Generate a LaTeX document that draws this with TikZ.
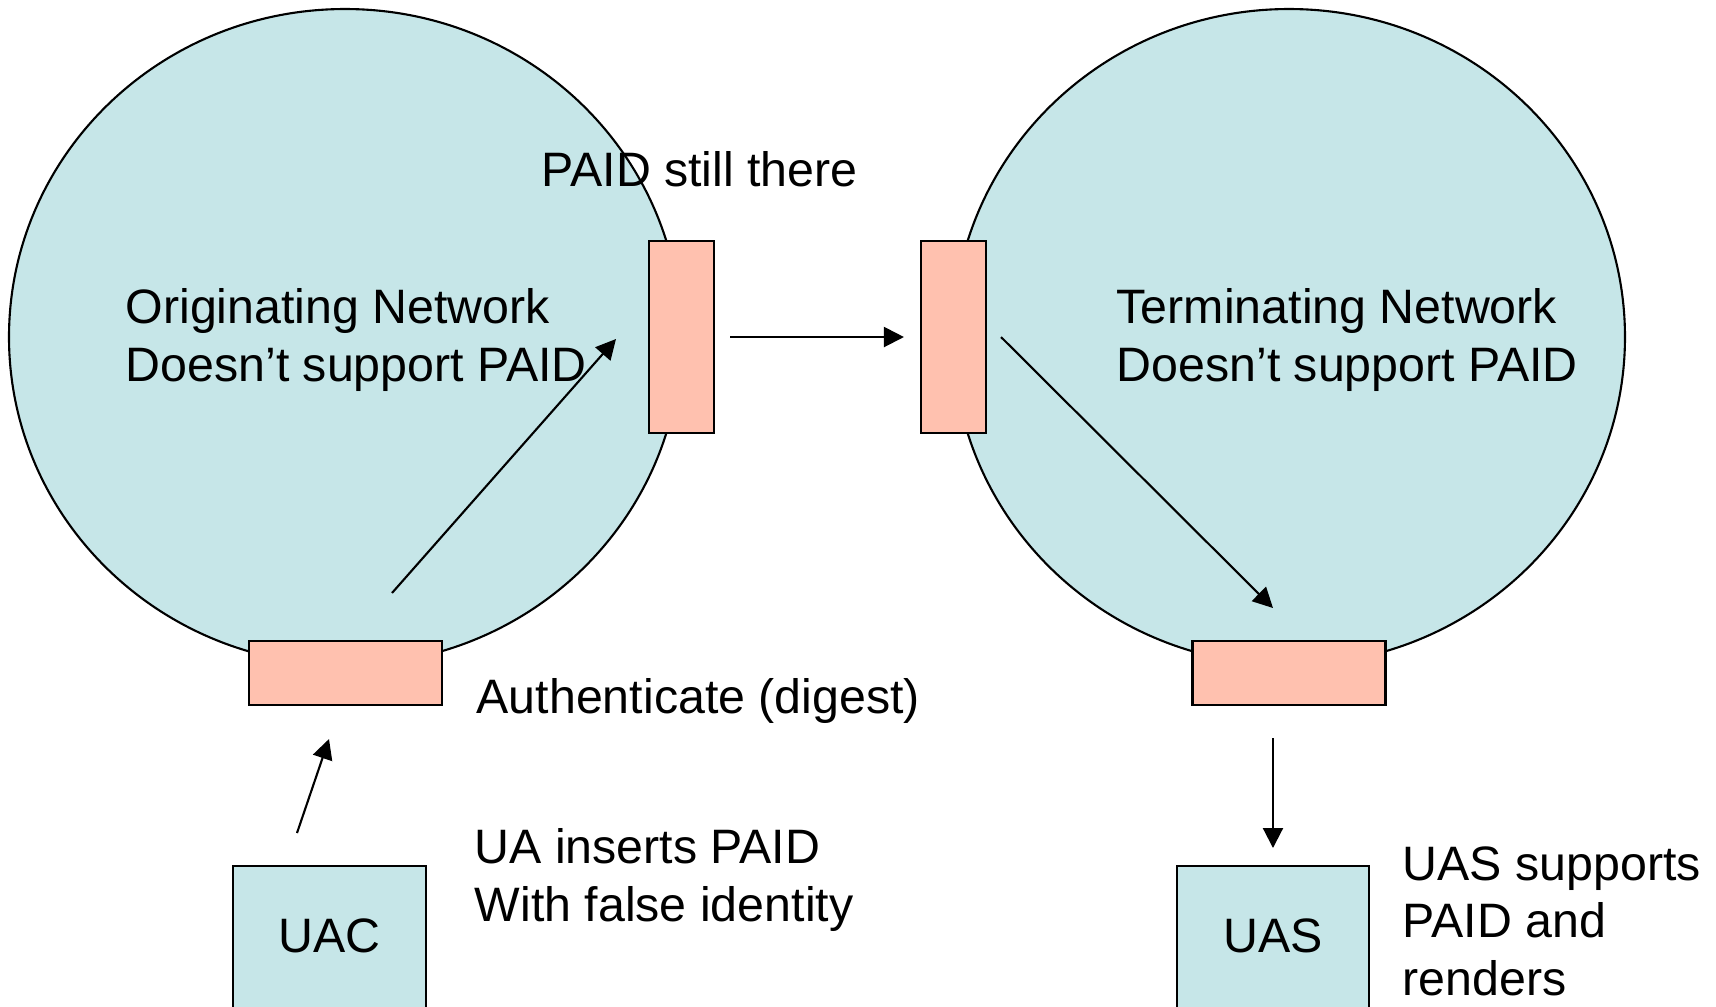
\documentclass[tikz,border=0pt]{standalone}
\usepackage{fontspec}
\setmainfont{Liberation Sans}
\usetikzlibrary{shapes.geometric,arrows.meta}
\definecolor{netblue}{RGB}{198,230,232}
\definecolor{gatepink}{RGB}{255,193,175}
\begin{document}
\begin{tikzpicture}[font=\fontsize{13.75}{16.4}\selectfont]
		\tikzset{network/.style = {shape=ellipse, draw, fill=netblue, line width=0.6pt, minimum width=6.72cm, minimum height=6.56cm},
			gate/.style = {shape=rectangle, draw, fill=gatepink, line width=0.6pt, inner sep=0pt},
			agent/.style = {shape=rectangle, draw, fill=netblue, line width=0.6pt, minimum height=1.6cm, text depth=0.2cm, anchor=north},
			note/.style = {inner sep=0pt, align=left},
			flow/.style = {-{Triangle[length=2mm,width=2mm]}, line width=0.6pt}}

		\useasboundingbox (0,0) rectangle (17.16,-10.06);
		\clip (0,0) rectangle (17.16,-10.06);

		\node[network] (orig) at (3.45,-3.37) {};
		\node[network] (term) at (12.89,-3.37) {};

		\node[gate, minimum width=0.65cm, minimum height=1.92cm] (og) at (6.815,-3.37) {};
		\node[gate, minimum width=0.65cm, minimum height=1.92cm] (tg) at (9.535,-3.37) {};
		\node[gate, minimum width=1.93cm, minimum height=0.64cm] (ob) at (3.455,-6.73) {};
		\node[gate, minimum width=1.93cm, minimum height=0.64cm] (tb) at (12.89,-6.73) {};

		\node[agent, minimum width=1.93cm] (uac) at (3.295,-8.65) {UAC};
		\node[agent, minimum width=1.92cm] (uas) at (12.73,-8.65) {UAS};

		\node[note, anchor=west] (origtext) at (1.25,-3.40) {Originating Network\\Doesn’t support PAID};
		\node[note, anchor=west] (termtext) at (11.16,-3.40) {Terminating Network\\Doesn’t support PAID};
		\node[note, anchor=base west] (still) at (5.41,-1.86) {PAID still there};
		\node[note, anchor=base west] (auth) at (4.76,-7.13) {Authenticate (digest)};
		\node[note, anchor=west] (inserts) at (4.74,-8.80) {UA inserts PAID\\With false identity};
		\node[note, anchor=west] (renders) at (14.02,-9.21) {UAS supports\\PAID and\\renders};

		\coordinate (ua1) at (2.97,-8.33);
		\coordinate (ua2) at (3.29,-7.39);
		\coordinate (on1) at (3.92,-5.93);
		\coordinate (on2) at (6.16,-3.39);
		\coordinate (tn1) at (10.01,-3.37);
		\coordinate (tn2) at (12.73,-6.08);

		\draw[flow] (ua1)--(ua2);
		\draw[flow] (on1)--(on2);
		\draw[flow, shorten <=1.5mm, shorten >=1.6mm] (og.east)--(tg.west);
		\draw[flow] (tn1)--(tn2);
		\draw[flow, shorten <=3.2mm, shorten >=1.7mm] (tb.south -| uas.north)--(uas.north);

	\end{tikzpicture}
\end{document}
